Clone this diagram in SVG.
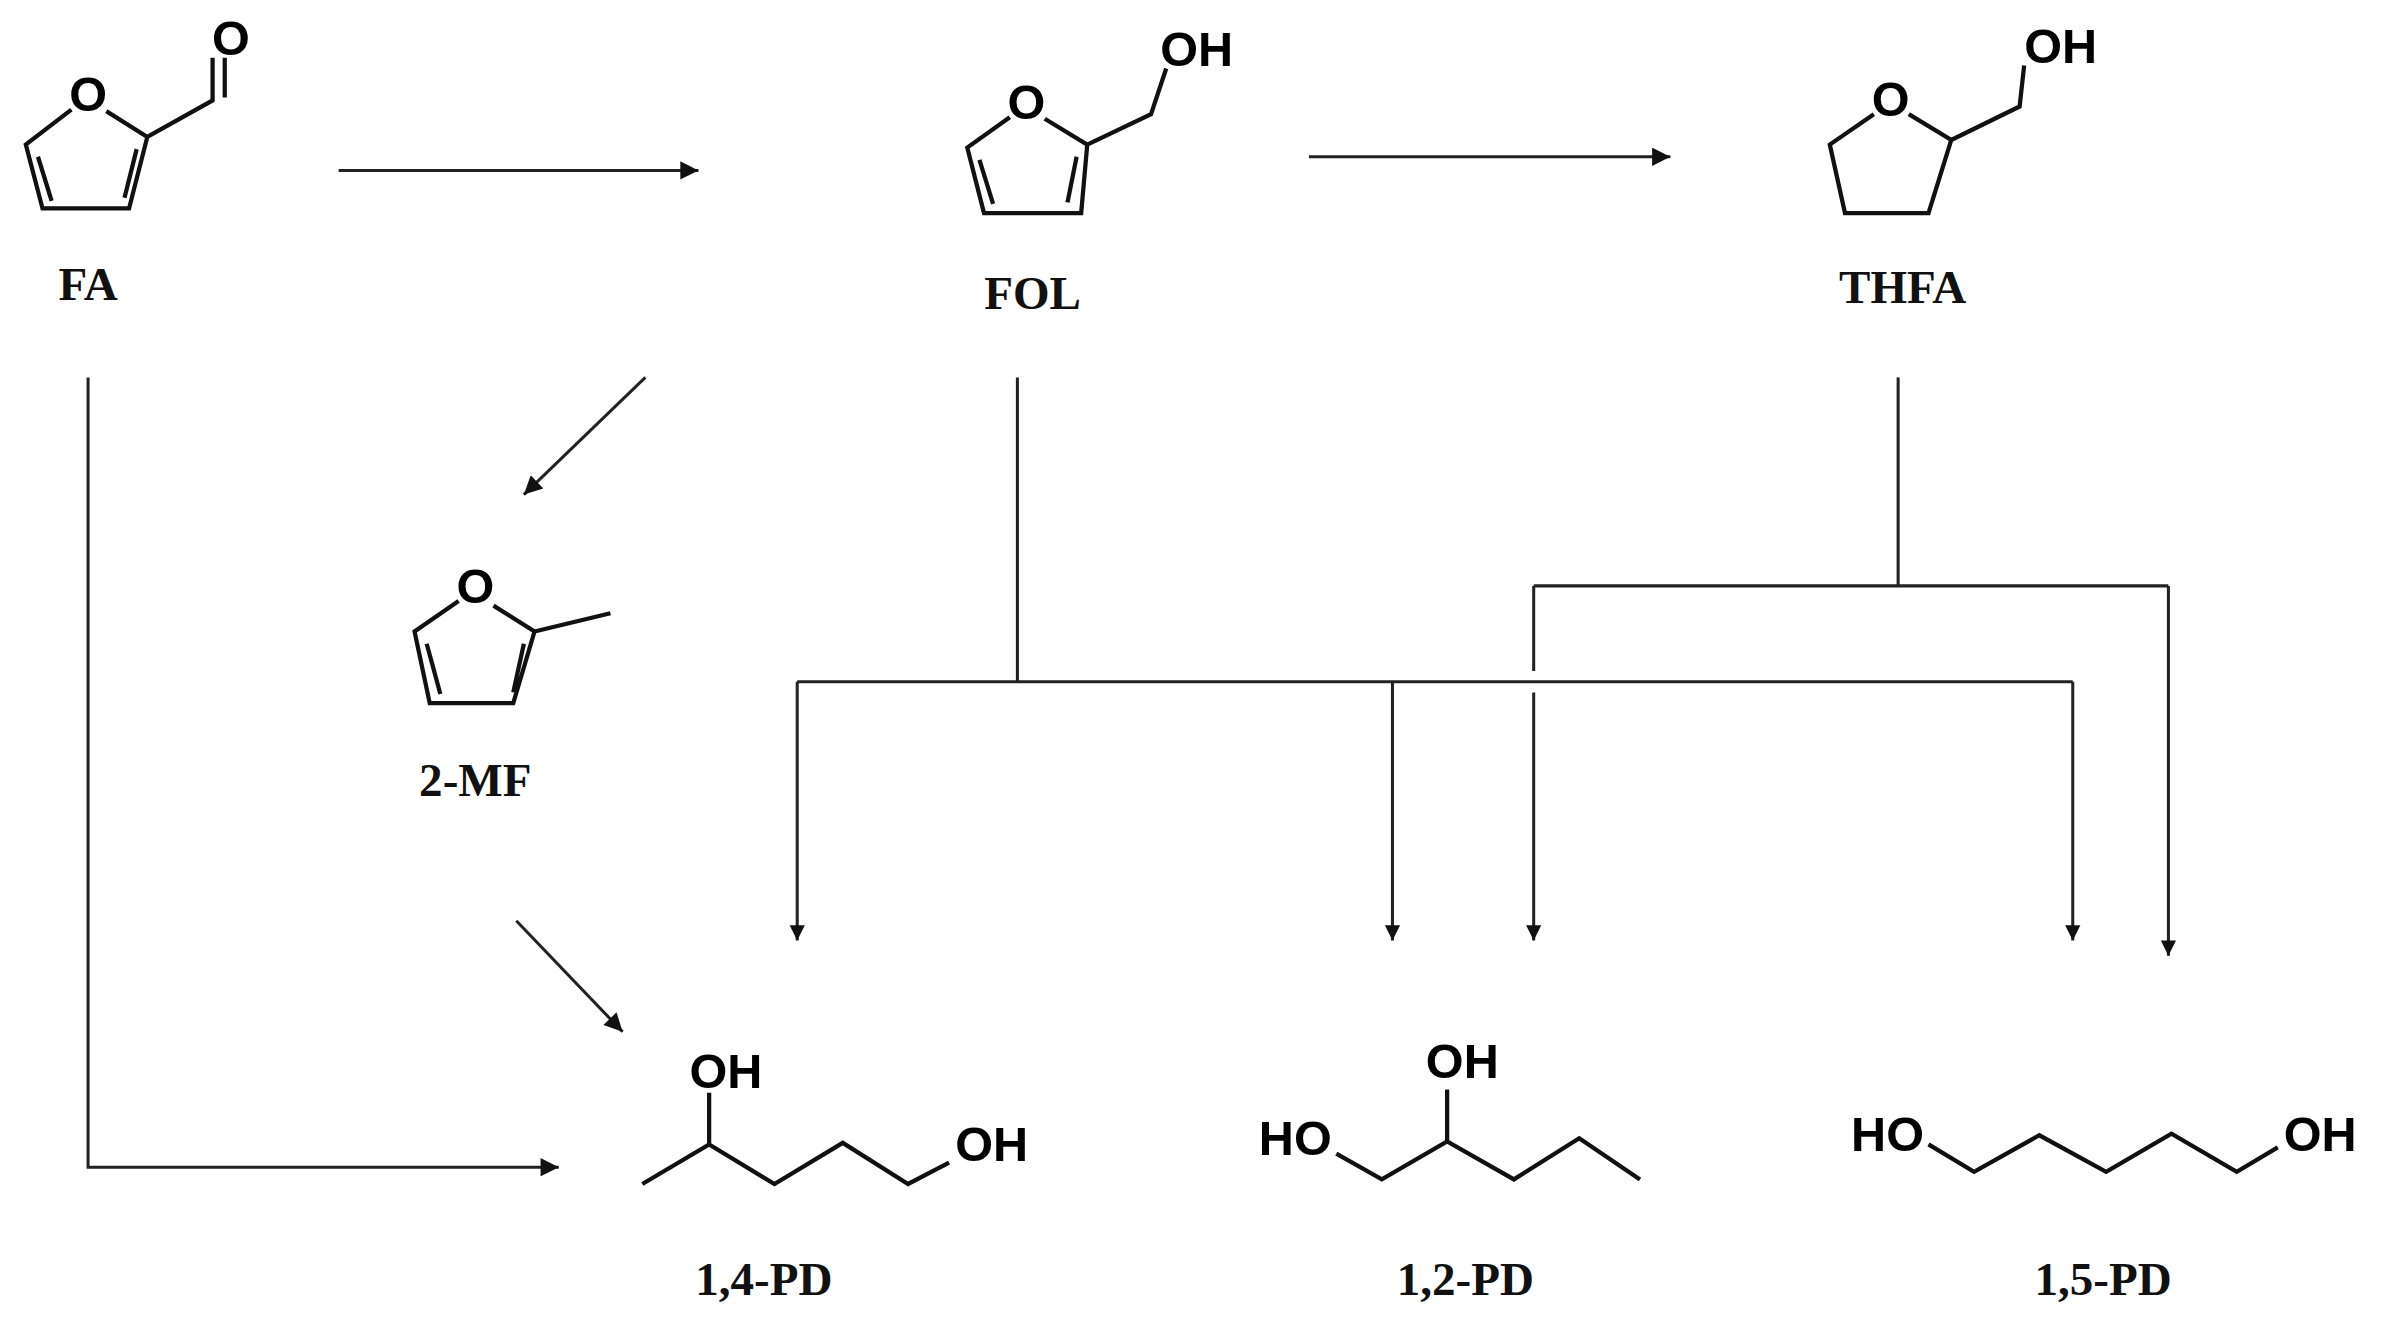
<svg xmlns="http://www.w3.org/2000/svg" width="2381" height="1324" viewBox="0 0 2381 1324">
<style>
.b{fill:none;stroke:#111;stroke-width:2.8;stroke-linejoin:miter}
.c{fill:none;stroke:#222;stroke-width:2}
.a{font-family:"Liberation Sans",Arial,sans-serif;font-weight:bold;font-size:32px;fill:#000;text-anchor:middle;dominant-baseline:central}
.l{font-family:"Liberation Serif","Times New Roman",serif;font-weight:bold;font-size:31px;fill:#111;text-anchor:middle}
</style>
<defs><marker id="ar" viewBox="0 0 10 10" refX="10" refY="5" markerWidth="10" markerHeight="16" markerUnits="userSpaceOnUse" orient="auto"><path d="M0,0L10,5L0,10z" fill="#111"/></marker>
<marker id="ar2" viewBox="0 0 10 10" refX="10" refY="5" markerWidth="16" markerHeight="12" markerUnits="userSpaceOnUse" orient="auto"><path d="M0,0L10,5L0,10z" fill="#111"/></marker></defs>
<rect width="2381" height="1324" fill="#fff"/>
<g transform="scale(1.5185,1.5218)">
<g id="FA">
<text class="a" x="58" y="62">O</text>
<path class="b" d="M47,72L17,95L28,137L85,137L97,90L70,73M25,103L34,132M90,98L82,130M97,90L140,66L140,38M148,64L148,38"/>
<text class="a" x="152" y="25">O</text>
<text class="l" x="58" y="197">FA</text>
</g>
<g id="FOL">
<text class="a" x="676" y="67">O</text>
<path class="b" d="M665,77L637,97L648,140L712,140L716,95L688,78M645,105L654,134M709,103L703,133M716,95L758,75L768,45"/>
<text class="a" x="788" y="32">OH</text>
<text class="l" x="680" y="203">FOL</text>
</g>
<g id="THFA">
<text class="a" x="1245" y="65">O</text>
<path class="b" d="M1234,75L1205,95L1215,140L1270,140L1285,92L1257,75M1285,92L1330,70L1333,43"/>
<text class="a" x="1357" y="30">OH</text>
<text class="l" x="1253" y="199">THFA</text>
</g>
<g id="MF">
<text class="a" x="313" y="385">O</text>
<path class="b" d="M302,395L273,415L283,462L338,462L352,415L325,398M281,423L290,456M345,423L338,455M352,415L402,403"/>
<text class="l" x="313" y="523">2-MF</text>
</g>
<g id="PD14">
<path class="b" d="M423,778L467,752L510,778L555,751L598,778L625,764M467,752L467,718"/>
<text class="a" x="478" y="704">OH</text>
<text class="a" x="653" y="752">OH</text>
<text class="l" x="503" y="851">1,4-PD</text>
</g>
<g id="PD12">
<path class="b" d="M880,758L910,775L953,750L997,775L1040,748L1080,775M953,750L953,716"/>
<text class="a" x="853" y="748">HO</text>
<text class="a" x="963" y="697">OH</text>
<text class="l" x="965" y="851">1,2-PD</text>
</g>
<g id="PD15">
<path class="b" d="M1270,752L1300,770L1343,746L1387,770L1430,745L1473,770L1500,754"/>
<text class="a" x="1243" y="745">HO</text>
<text class="a" x="1528" y="745">OH</text>
<text class="l" x="1385" y="851">1,5-PD</text>
</g>
<g id="connectors">
<path class="c" stroke-width="2.6" d="M223,112L460,112" marker-end="url(#ar2)"/>
<path class="c" stroke-width="2.6" d="M862,103L1100,103" marker-end="url(#ar2)"/>
<path class="c" stroke-width="2.4" d="M425,248L345,325" marker-end="url(#ar2)"/>
<path class="c" stroke-width="2.4" d="M340,605L410,678" marker-end="url(#ar2)"/>
<path class="c" d="M58,248L58,767L368,767" marker-end="url(#ar2)"/>
<path class="c" d="M670,248L670,448"/>
<path class="c" d="M525,448L1365,448"/>
<path class="c" d="M525,448L525,618" marker-end="url(#ar)"/>
<path class="c" d="M917,448L917,618" marker-end="url(#ar)"/>
<path class="c" d="M1365,448L1365,618" marker-end="url(#ar)"/>
<path class="c" d="M1250,248L1250,385"/>
<path class="c" d="M1010,385L1428,385"/>
<path class="c" d="M1010,385L1010,441M1010,455L1010,618" marker-end="url(#ar)"/>
<path class="c" d="M1428,385L1428,628" marker-end="url(#ar)"/>
</g>
</g>
</svg>
